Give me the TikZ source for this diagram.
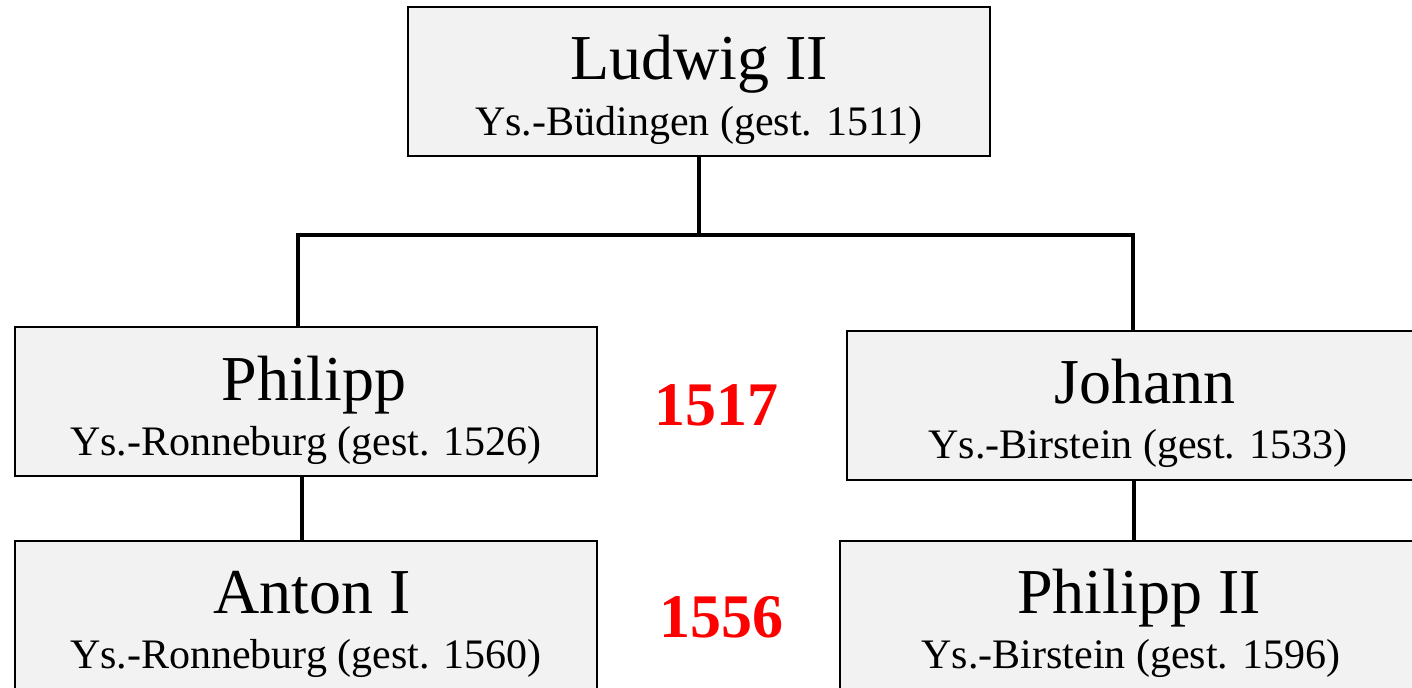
\documentclass[tikz,border=0pt]{standalone}
\usepackage{fontspec}
\setmainfont{Liberation Serif}
\definecolor{boxgray}{RGB}{242,242,242}
\definecolor{yearred}{RGB}{255,0,0}
\begin{document}
\begin{tikzpicture}[x=0.5pt,y=-0.5pt,
  box/.style={draw=black,line width=1pt,fill=boxgray,minimum width=291pt,minimum height=74.5pt,inner sep=0pt},
  title/.style={anchor=base,inner sep=0pt,font=\fontsize{32}{38}\selectfont},
  sub/.style={anchor=base,inner sep=0pt,font=\fontsize{21}{25}\selectfont},
  year/.style={anchor=base,inner sep=0pt,text=yearred,font=\fontsize{31}{37}\selectfont\bfseries},
  conn/.style={line width=2.4pt}]
\useasboundingbox (0,0) rectangle (1412,687);
\clip (0,0) rectangle (1412,687);
% connectors (drawn first, boxes on top)
\coordinate (jl) at (298,235);
\coordinate (jr) at (1133,235);
% boxes
\node[box] (L) at (699,81.5) {};
\node[box] (P) at (306,401) {};
\node[box] (J) at (1138,405.5) {};
\node[box] (A) at (306,615) {};
\node[box] (P2) at (1131,615) {};
% texts
\node[title] (Lt) at (699,79) {Ludwig II};
\node[sub] (Ls) at (699,135) {Ys.-Büdingen (gest. 1511)};
\node[title] (Pt) at (314,400) {Philipp};
\node[sub] (Ps) at (306,455) {Ys.-Ronneburg (gest. 1526)};
\node[title] (Jt) at (1145,403) {Johann};
\node[sub] (Js) at (1138,458) {Ys.-Birstein (gest. 1533)};
\node[title] (At) at (312,613) {Anton I};
\node[sub] (As) at (306,668) {Ys.-Ronneburg (gest. 1560)};
\node[title] (P2t) at (1139,613) {Philipp II};
\node[sub] (P2s) at (1131,668) {Ys.-Birstein (gest. 1596)};
\node[year] (y1) at (716,425) {1517};
\node[year] (y2) at (721,637) {1556};
% connectors
\draw[conn] (L.south) -- (L.south |- jl);
\draw[conn] (jl |- P.north) -- (jl) -- (jr) -- (jr |- J.north);
\draw[conn] ([xshift=-2pt]P.south) -- ([xshift=-2pt]P.south |- A.north);
\draw[conn] ([xshift=-2pt]J.south) -- ([xshift=-2pt]J.south |- P2.north);
\end{tikzpicture}
\end{document}
